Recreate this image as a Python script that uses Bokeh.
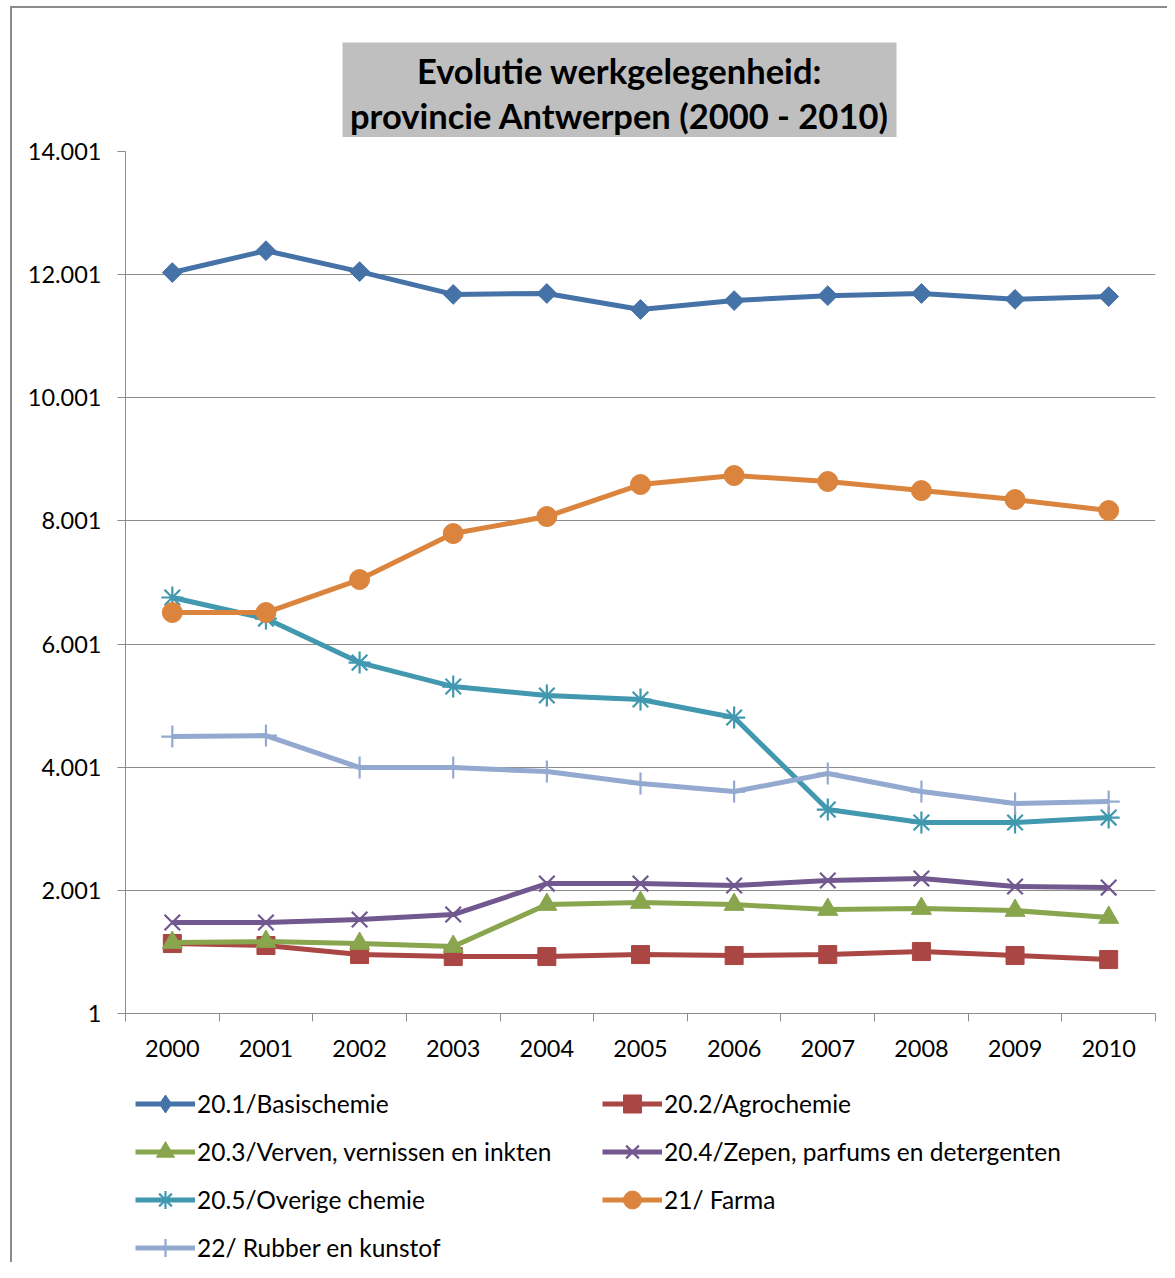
import math
from bokeh.plotting import figure
from bokeh.models import FixedTicker, Legend, LegendItem, Range1d, Div
from bokeh.layouts import column, row
from bokeh.core.properties import value
from bokeh.embed import file_html
from bokeh.resources import INLINE

years = [2000, 2001, 2002, 2003, 2004, 2005, 2006, 2007, 2008, 2009, 2010]
year_labels = [str(y) for y in years]

basischemie = [12035, 12390, 12050, 11680, 11695, 11435, 11580, 11660, 11695, 11600, 11645]
agrochemie = [1137, 1105, 958, 926, 926, 958, 942, 958, 1007, 942, 877]
verven = [1153, 1169, 1137, 1088, 1770, 1803, 1770, 1689, 1705, 1673, 1560]
zepen = [1478, 1478, 1527, 1608, 2111, 2111, 2079, 2160, 2193, 2063, 2046]
overige = [6757, 6415, 5700, 5311, 5165, 5100, 4808, 3313, 3102, 3102, 3183]
farma = [6513, 6513, 7049, 7796, 8072, 8592, 8738, 8641, 8494, 8348, 8170]
rubber = [4499, 4515, 3996, 3996, 3930, 3736, 3606, 3898, 3606, 3411, 3443]

y_ticks = [1, 2001, 4001, 6001, 8001, 10001, 12001, 14001]
y_tick_labels = ["1", "2.001", "4.001", "6.001", "8.001", "10.001", "12.001", "14.001"]

title_lines = ["Evolutie werkgelegenheid:", "provincie Antwerpen (2000 - 2010)"]

series = [
    # name, values, colour, chart marker, size, angle, legend marker
    ("20.1/Basischemie", basischemie, "#4572A7", "square", 14, math.pi / 4, "diamond"),
    ("20.2/Agrochemie", agrochemie, "#AA4643", "square", 18, 0, "square"),
    ("20.3/Verven, vernissen en inkten", verven, "#89A54E", "triangle", 20, 0, "triangle"),
    ("20.4/Zepen, parfums en detergenten", zepen, "#71588F", "x", 22, 0, "x"),
    ("20.5/Overige chemie", overige, "#4198AF", "asterisk", 22, 0, "asterisk"),
    ("21/ Farma", farma, "#DB843D", "circle", 20, 0, "circle"),
    ("22/ Rubber en kunstof", rubber, "#93A9CF", "cross", 22, 0, "cross"),
]

FONT = "Lato"
TOTAL_W = 1167
LEFT_PAD = 12
W = TOTAL_W - LEFT_PAD
GRID = "#8c8c8c"
FRAME_L, FRAME_R = 125, 1155   # frame edges in page pixels (all figures share them)
BL = FRAME_L - LEFT_PAD
BR = W - BL - (FRAME_R - FRAME_L)


def bare(fig):
    fig.axis.visible = False
    fig.grid.grid_line_color = None
    fig.outline_line_color = None
    fig.background_fill_color = "white"
    fig.border_fill_color = "white"


# ---- title figure ----
TOP = 8
TH = 129
pt = figure(width=W, height=TH, output_backend="svg", toolbar_location=None,
            x_range=Range1d(FRAME_L, FRAME_R), y_range=Range1d(TOP + TH, TOP),
            min_border_left=BL, min_border_right=BR,
            min_border_top=0, min_border_bottom=0)
bare(pt)
pt.quad(left=[342], right=[896], top=[42], bottom=[140], fill_color="#bfbfbf", line_color=None)
pt.text(x=[619, 619], y=[70, 115], text=title_lines, text_align="center",
        text_baseline="middle", text_font=value(FONT), text_font_style="bold",
        text_font_size="34.5px", text_color="black")

# ---- main figure ----
MH = 14 + 862 + 62
p = figure(width=W, height=MH, output_backend="svg", toolbar_location=None,
           x_range=Range1d(1999.5, 2010.5), y_range=Range1d(1, 14001),
           min_border_left=BL, min_border_right=BR, min_border_top=14, min_border_bottom=62)
p.outline_line_color = None
p.background_fill_color = "white"
p.border_fill_color = "white"

p.xaxis.ticker = FixedTicker(ticks=years, minor_ticks=[y - 0.5 for y in years] + [2010.5])
p.xaxis.major_label_overrides = {y: l for y, l in zip(years, year_labels)}
p.xaxis.major_tick_line_color = None
p.xaxis.major_tick_out = 8
p.xaxis.major_tick_in = 0
p.xaxis.minor_tick_out = 8
p.xaxis.minor_tick_in = 0
p.xaxis.minor_tick_line_color = GRID
p.xaxis.axis_line_color = GRID
p.xaxis.major_label_standoff = 18
p.xaxis.major_label_text_font = FONT
p.xaxis.major_label_text_font_size = "23.5px"
p.xaxis.major_label_text_color = "black"

p.yaxis.ticker = FixedTicker(ticks=y_ticks, minor_ticks=[])
p.yaxis.major_label_overrides = {t: l for t, l in zip(y_ticks, y_tick_labels)}
p.yaxis.major_tick_out = 8
p.yaxis.major_tick_in = 0
p.yaxis.major_tick_line_color = GRID
p.yaxis.minor_tick_line_color = None
p.yaxis.axis_line_color = GRID
p.yaxis.major_label_standoff = 16
p.yaxis.major_label_text_font = FONT
p.yaxis.major_label_text_font_size = "23.5px"
p.yaxis.major_label_text_color = "black"

p.xgrid.grid_line_color = None
p.ygrid.ticker = FixedTicker(ticks=y_ticks)
p.ygrid.grid_line_color = GRID
p.ygrid.grid_line_width = 1


def add_series(fig, xs, ys, color, marker, size, angle):
    lr = fig.line(xs, ys, line_color=color, line_width=5)
    if marker in ("x", "asterisk", "cross"):
        sr = fig.scatter(xs, ys, marker=marker, size=size, line_color=color,
                         line_width=2.2, fill_color=color)
    else:
        sr = fig.scatter(xs, ys, marker=marker, size=size, angle=angle,
                         line_color=color, fill_color=color)
    return lr, sr


for name, vals, color, marker, size, angle, lmarker in series:
    add_series(p, years, vals, color, marker, size, angle)

# ---- legend figure ----
LH = 1262 - TOP - TH - MH
pl = figure(width=W, height=LH, output_backend="svg", toolbar_location=None,
            x_range=Range1d(FRAME_L, FRAME_R), y_range=Range1d(0, LH),
            min_border_left=BL, min_border_right=BR,
            min_border_top=0, min_border_bottom=0)
bare(pl)
legend_renderers = {}
for name, vals, color, marker, size, angle, lmarker in series:
    # a single point far outside the visible range: only its legend swatch shows
    legend_renderers[name] = list(add_series(pl, [-1e6], [-1e6], color, lmarker, size, 0))

names = [s[0] for s in series]
col1 = [names[0], names[2], names[4], names[6]]
col2 = [names[1], names[3], names[5]]

GH = 45
SP = 3


def make_legend(cols, x_loc):
    n = len(cols)
    height = n * GH + (n - 1) * SP
    top = 29 - GH / 2
    lg = Legend(items=[LegendItem(label=c, renderers=legend_renderers[c]) for c in cols],
                location=(x_loc, int(round(LH - (top + height)))), orientation="vertical",
                glyph_width=60, glyph_height=GH, label_height=30, spacing=SP,
                label_standoff=2, padding=0, margin=0,
                label_text_font=FONT, label_text_font_size="24.5px",
                label_text_color="black", label_text_baseline="middle",
                border_line_color=None, background_fill_alpha=0)
    pl.add_layout(lg, "center")


make_legend(col1, 10)
make_legend(col2, 477)

# ---- outer frame lines ----
BORDER = "2px solid #8c8c8c"
top_line = Div(width=W, height=TOP, margin=0,
               styles={"border-bottom": BORDER, "box-sizing": "border-box"})
left_gap = Div(width=LEFT_PAD, height=6, margin=0)
left_line = Div(width=LEFT_PAD, height=1262 - 6, margin=0,
                styles={"border-right": BORDER, "box-sizing": "border-box"})

layout = row(column(left_gap, left_line), column(top_line, pt, p, pl))

open("out.html", "w").write(file_html(layout, INLINE))
